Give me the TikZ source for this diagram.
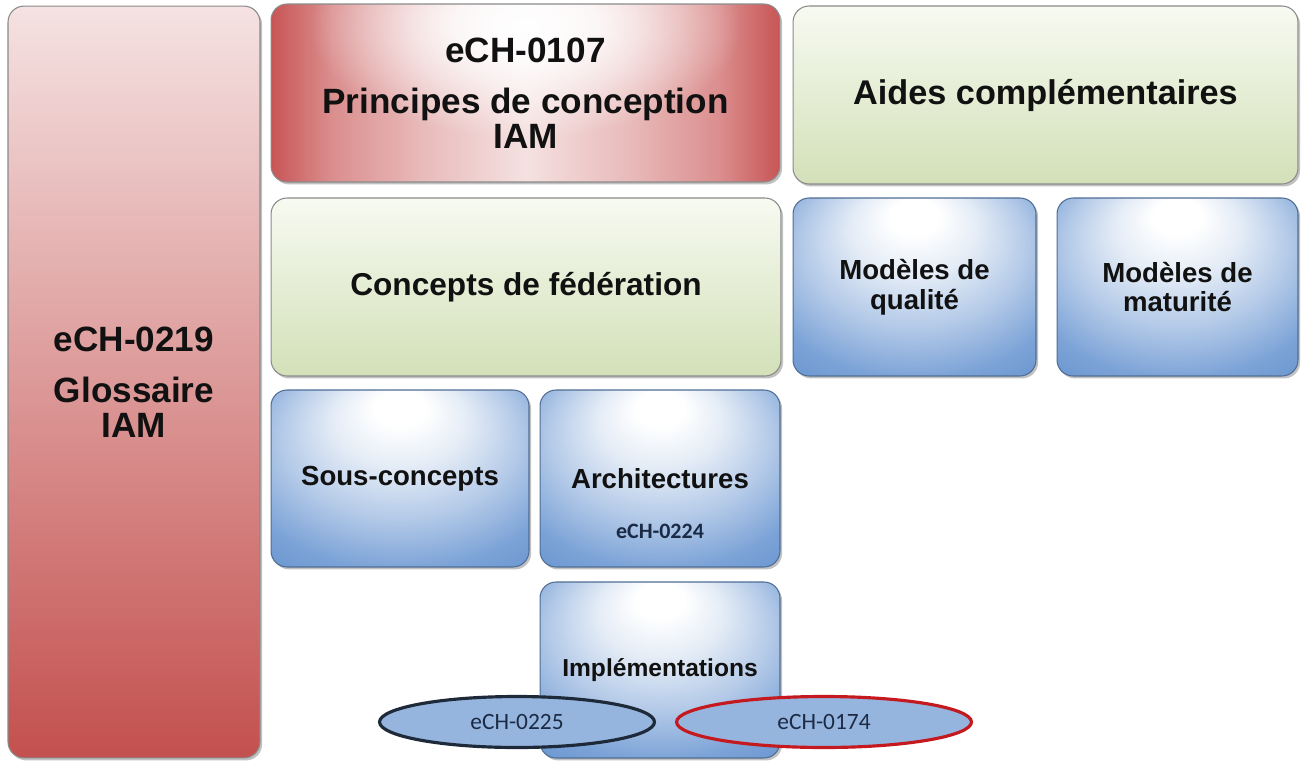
\documentclass[tikz,border=0pt]{standalone}
\usepackage{fontspec}
\setmainfont{Liberation Sans}
\newfontfamily\calfont{Carlito}
\usetikzlibrary{shapes.geometric,shadows,fadings}

\definecolor{edgegray}{HTML}{8A8A8A}
\definecolor{blueedge}{HTML}{4F6D94}
\definecolor{bpale}{HTML}{E4ECF6}
\definecolor{bmid}{HTML}{B4CAE8}
\definecolor{bdark}{HTML}{7CA3D7}
\definecolor{bdeep}{HTML}{5A8BCA}
\definecolor{rcenter}{HTML}{F5E1E1}
\definecolor{rlight}{HTML}{E9BBBB}
\definecolor{rmid}{HTML}{DB8E8E}
\definecolor{rdark}{HTML}{C85556}
\definecolor{gtop}{HTML}{F7FAF1}
\definecolor{gbot}{HTML}{D3E0B8}
\definecolor{ptop}{HTML}{F5E2E2}
\definecolor{pmid}{HTML}{E6B3B3}
\definecolor{pbot}{HTML}{C3504E}
\definecolor{ellfill}{HTML}{95B5DE}
\definecolor{elldark}{HTML}{1E2A3A}
\definecolor{ellred}{HTML}{C41A1F}
\definecolor{ink}{HTML}{111111}
\definecolor{navyink}{HTML}{1C2B45}

% blue tiles: broad highlight near the top centre, darker towards the edges
\pgfdeclareradialshading{bluehl}{\pgfpoint{0bp}{22bp}}{%
  color(0bp)=(white); color(5bp)=(white); color(13bp)=(bpale); color(23bp)=(bmid);
  color(33bp)=(bdark); color(45bp)=(bdeep); color(50bp)=(bdeep)}
% red tile: red sides fading to a pale middle
\pgfdeclarehorizontalshading{redh}{100bp}{%
  color(0bp)=(rdark); color(25bp)=(rdark); color(31bp)=(rmid);
  color(40bp)=(rlight); color(50bp)=(rcenter); color(60bp)=(rlight);
  color(69bp)=(rmid); color(75bp)=(rdark); color(100bp)=(rdark)}
% soft white glow (opaque centre, fully transparent well inside the rim)
\pgfdeclareradialshading{glowshade}{\pgfpointorigin}{%
  color(0bp)=(white); color(6bp)=(white!85!black); color(18bp)=(black); color(50bp)=(black)}
\pgfdeclarefading{glowfade}{\pgfuseshading{glowshade}}

\tikzset{
  tile/.style={rectangle, rounded corners=0.32cm, draw=edgegray, line width=0.6pt,
    text=ink, align=center, inner sep=0pt,
    drop shadow={shadow xshift=1.2pt, shadow yshift=-1.4pt, opacity=0.35, fill=black!70}},
  bluetile/.style={tile, draw=blueedge, shading=bluehl},
  redtile/.style={tile, shading=redh,
    path picture={\fill[white, path fading=glowfade]
      ([yshift=-0.3cm]path picture bounding box.north) ellipse (6cm and 3cm);}},
  greentile/.style={tile, top color=gtop, bottom color=gbot},
  pinktile/.style={tile, top color=ptop, middle color=pmid, bottom color=pbot},
  bigtext/.style={font=\bfseries\fontsize{20}{20}\selectfont},
  medtext/.style={font=\bfseries\fontsize{15.7}{17}\selectfont},
  stdoval/.style={ellipse, fill=ellfill, line width=1.8pt, inner sep=0pt,
    text=navyink, font=\calfont\fontsize{13.3}{14}\selectfont}
}

\begin{document}
\begin{tikzpicture}[x=0.02cm, y=-0.02cm]
\useasboundingbox (0,0) rectangle (1305,761);

% left column
\node[pinktile, bigtext, minimum width=5.04cm, minimum height=15.04cm] (glos) at (134,382)
  {eCH-0219\\[9pt]Glossaire\\IAM};

% top row
\node[redtile, bigtext, minimum width=10.18cm, minimum height=3.56cm] (princ) at (525.5,93)
  {eCH-0107\\[9pt]Principes de conception\\IAM};
\node[greentile, font=\bfseries\fontsize{19.5}{20}\selectfont,
  minimum width=10.1cm, minimum height=3.56cm] (aides) at (1045.5,95)
  {Aides complémentaires};

% second row
\node[greentile, font=\bfseries\fontsize{18}{20}\selectfont,
  minimum width=10.2cm, minimum height=3.56cm] (fed) at (526,287)
  {Concepts de fédération};
\node[bluetile, medtext, minimum width=4.86cm, minimum height=3.56cm] (qual) at (914.5,287)
  {Modèles de\\qualité};
\node[bluetile, medtext, minimum width=4.82cm, minimum height=3.56cm] (mat) at (1177.5,287)
  {Modèles de\\maturité};

% third row
\node[bluetile, medtext, minimum width=5.16cm, minimum height=3.54cm] (sous) at (400,478.5)
  {Sous-concepts};
\node[bluetile, medtext, minimum width=4.8cm, minimum height=3.54cm] (arch) at (660,478.5)
  {Architectures};
\node[font=\calfont\bfseries\fontsize{12.5}{13}\selectfont, text=navyink] (archref) at (660,531) {eCH-0224};

% bottom row
\node[bluetile, font=\bfseries\fontsize{14}{15}\selectfont,
  minimum width=4.8cm, minimum height=3.52cm] (impl) at (660,670)
  {Implémentations};

% standards attached to the implementations
\node[stdoval, draw=elldark, minimum width=5.5cm, minimum height=1.02cm] (s225) at (517,722) {eCH-0225};
\node[stdoval, draw=ellred, minimum width=5.9cm, minimum height=1.02cm] (s174) at (824,722) {eCH-0174};
\end{tikzpicture}
\end{document}
